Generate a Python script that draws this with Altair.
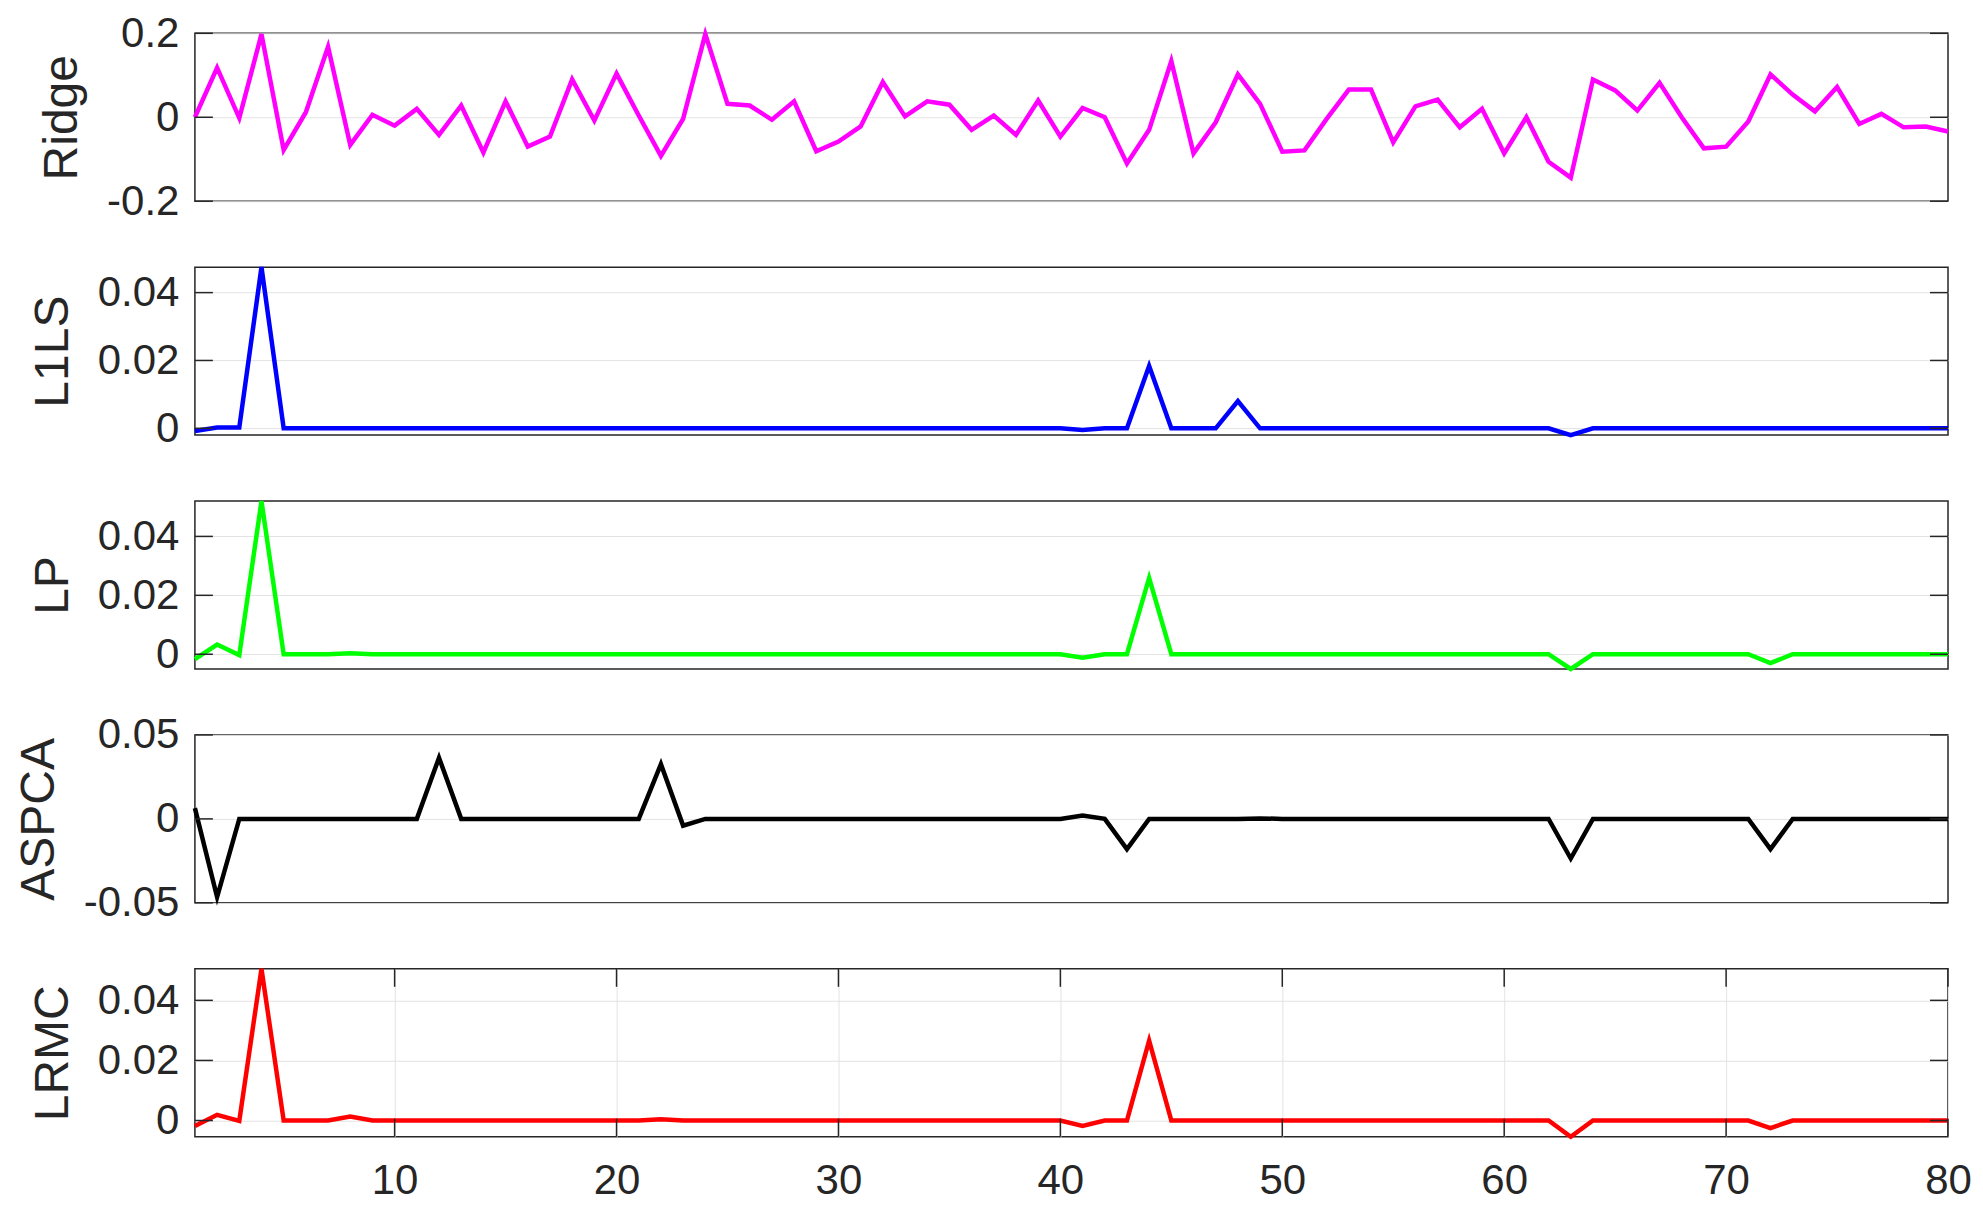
import altair as alt
import pandas as pd

x_index = list(range(1, 81))

ridge = [0.000, 0.118, -0.002, 0.198, -0.078, 0.012, 0.168, -0.066, 0.006, -0.020,
         0.020, -0.042, 0.028, -0.084, 0.038, -0.070, -0.046, 0.090, -0.008, 0.104,
         0.004, -0.092, -0.004, 0.198, 0.032, 0.028, -0.006, 0.038, -0.081, -0.058,
         -0.022, 0.084, 0.002, 0.038, 0.030, -0.030, 0.004, -0.042, 0.040, -0.046,
         0.022, 0.000, -0.110, -0.030, 0.134, -0.086, -0.012, 0.102, 0.032, -0.082,
         -0.079, -0.004, 0.066, 0.066, -0.060, 0.026, 0.042, -0.024, 0.020, -0.086,
         0.000, -0.106, -0.144, 0.090, 0.064, 0.016, 0.082, 0.000, -0.074, -0.070,
         -0.010, 0.102, 0.054, 0.014, 0.072, -0.016, 0.008, -0.024, -0.022, -0.034]

l1ls = [-0.0008, 0.0002, 0.0002, 0.0475, 0, 0, 0, 0, 0, 0,
        0, 0, 0, 0, 0, 0, 0, 0, 0, 0,
        0, 0, 0, 0, 0, 0, 0, 0, 0, 0,
        0, 0, 0, 0, 0, 0, 0, 0, 0, 0,
        -0.0005, 0, 0, 0.0184, 0, 0, 0, 0.0080, 0, 0,
        0, 0, 0, 0, 0, 0, 0, 0, 0, 0,
        0, 0, -0.0020, 0, 0, 0, 0, 0, 0, 0,
        0, 0, 0, 0, 0, 0, 0, 0, 0, 0]

lp = [-0.0017, 0.0033, -0.0003, 0.0520, 0, 0, 0, 0.0003, 0, 0,
      0, 0, 0, 0, 0, 0, 0, 0, 0, 0,
      0, 0, 0, 0, 0, 0, 0, 0, 0, 0,
      0, 0, 0, 0, 0, 0, 0, 0, 0, 0,
      -0.0012, 0, 0, 0.0259, 0, 0, 0, 0, 0, 0,
      0, 0, 0, 0, 0, 0, 0, 0, 0, 0,
      0, 0, -0.0050, 0, 0, 0, 0, 0, 0, 0,
      0, -0.0030, 0, 0, 0, 0, 0, 0, 0, 0]

aspca = [0.0064, -0.0466, 0, 0, 0, 0, 0, 0, 0, 0,
         0, 0.0364, 0, 0, 0, 0, 0, 0, 0, 0,
         0, 0.0326, -0.0040, 0, 0, 0, 0, 0, 0, 0,
         0, 0, 0, 0, 0, 0, 0, 0, 0, 0,
         0.0020, 0, -0.0180, 0, 0, 0, 0, 0, 0.0003, 0,
         0, 0, 0, 0, 0, 0, 0, 0, 0, 0,
         0, 0, -0.0236, 0, 0, 0, 0, 0, 0, 0,
         0, -0.0180, 0, 0, 0, 0, 0, 0, 0, 0]

lrmc = [-0.0018, 0.0019, -0.0001, 0.0505, 0, 0, 0, 0.0013, 0, 0,
        0, 0, 0, 0, 0, 0, 0, 0, 0, 0,
        0, 0.0004, 0, 0, 0, 0, 0, 0, 0, 0,
        0, 0, 0, 0, 0, 0, 0, 0, 0, 0,
        -0.0018, 0, 0, 0.0266, 0, 0, 0, 0, 0, 0,
        0, 0, 0, 0, 0, 0, 0, 0, 0, 0,
        0, 0, -0.0054, 0, 0, 0, 0, 0, 0, 0,
        0, -0.0025, 0, 0, 0, 0, 0, 0, 0, 0]

x_ticks = [10, 20, 30, 40, 50, 60, 70, 80]

panels = [
    ("Ridge", ridge, "#ff00ff", [-0.2, 0, 0.2], [-0.2, 0.2]),
    ("L1LS", l1ls, "#0000ff", [0, 0.02, 0.04], None),
    ("LP", lp, "#00ff00", [0, 0.02, 0.04], None),
    ("ASPCA", aspca, "#000000", [-0.05, 0, 0.05], [-0.05, 0.05]),
    ("LRMC", lrmc, "#ff0000", [0, 0.02, 0.04], None),
]

W = 1754
H = 168
TICK = 18
FONT = "Liberation Sans"
TXT = "#262626"
label_expr = "datum.value < 0 ? '-' + format(-datum.value, '~g') : format(datum.value, '~g')"

charts = []
for i, (name, vals, color, yt, dom) in enumerate(panels):
    last = i == len(panels) - 1
    if dom is None:
        dom = [min(vals), max(vals)]
    df = pd.DataFrame({"x": x_index, "v": vals})
    ydf = pd.DataFrame({"t": yt})
    yscale = alt.Scale(domain=dom, nice=False, zero=False)
    xscale = alt.Scale(domain=[1, 80], nice=False, zero=False)
    if last:
        xaxis = alt.Axis(values=x_ticks, grid=True, gridColor="#e3e3e3", gridWidth=1,
                         ticks=False, tickSize=0, domain=False, labelPadding=24,
                         labelFontSize=42, labelFont=FONT, labelColor=TXT,
                         labelFlush=False, labelOverlap=False, title=None)
    else:
        xaxis = None
    yaxis = alt.Axis(values=yt, grid=True, gridColor="#e3e3e3", gridWidth=1,
                     ticks=False, tickSize=0, domain=False, labelPadding=16,
                     labelFontSize=42, labelFont=FONT, labelColor=TXT,
                     labelFlush=False, labelOverlap=False, labelExpr=label_expr,
                     title=name, titleFontSize=48, titleFont=FONT, titleColor=TXT,
                     titleFontWeight="normal", titlePadding=20)
    line = alt.Chart(df).mark_line(color=color, strokeWidth=4.5).encode(
        x=alt.X("x:Q", scale=xscale, axis=xaxis),
        y=alt.Y("v:Q", scale=yscale, axis=yaxis),
    )
    lt = alt.Chart(ydf).mark_rule(color=TXT, strokeWidth=1.5).encode(
        y=alt.Y("t:Q"), x=alt.value(0), x2=alt.value(TICK))
    rt = alt.Chart(ydf).mark_rule(color=TXT, strokeWidth=1.5).encode(
        y=alt.Y("t:Q"), x=alt.value(W - TICK), x2=alt.value(W))
    layers = [line, lt, rt]
    if last:
        xdf = pd.DataFrame({"t": x_ticks})
        tt = alt.Chart(xdf).mark_rule(color=TXT, strokeWidth=1.5).encode(
            x=alt.X("t:Q"), y=alt.value(0), y2=alt.value(TICK))
        bt = alt.Chart(xdf).mark_rule(color=TXT, strokeWidth=1.5).encode(
            x=alt.X("t:Q"), y=alt.value(H - TICK), y2=alt.value(H))
        layers += [tt, bt]
    charts.append(alt.layer(*layers).properties(width=W, height=H))

chart = alt.vconcat(*charts, spacing=66, bounds="flush").configure_view(
    stroke=TXT, strokeWidth=1.5
).properties(background="white", padding={"left": 6, "top": 3, "right": 2, "bottom": 0})

chart.save("out.html", embed_options={"renderer": "svg", "actions": False})
